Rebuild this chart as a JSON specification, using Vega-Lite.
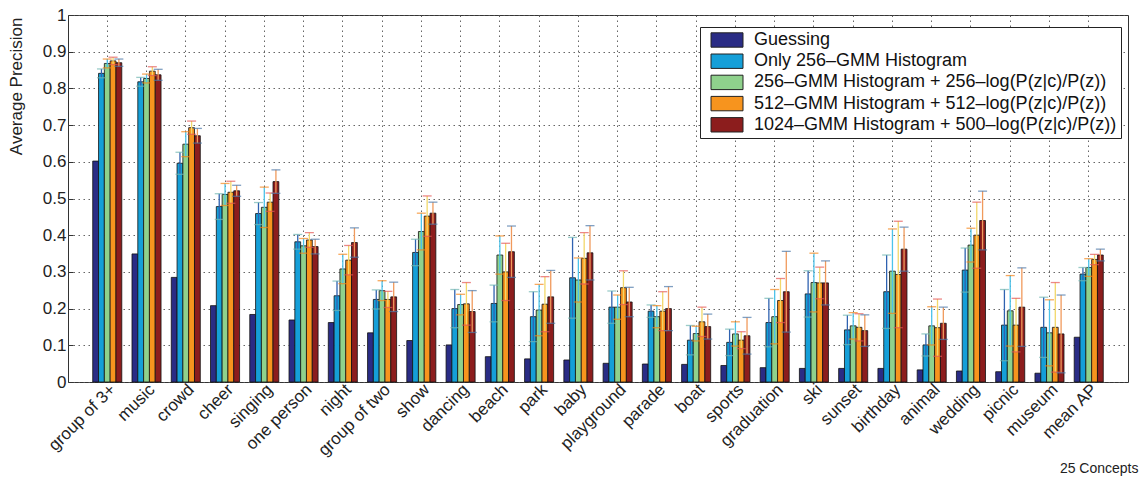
{
  "$schema": "https://vega.github.io/schema/vega-lite/v6.json",
  "width": 1060,
  "height": 367,
  "autosize": {"type": "none"},
  "padding": {"left": 68, "top": 15, "right": 14, "bottom": 95},
  "background": "white",
  "config": {
    "font": "Liberation Sans",
    "view": {"stroke": "#333", "strokeWidth": 1},
    "axis": {
      "labelFont": "Liberation Sans",
      "titleFont": "Liberation Sans",
      "labelColor": "#222",
      "titleColor": "#222",
      "gridColor": "#555",
      "gridDash": [1.5, 3.5],
      "gridWidth": 1,
      "gridOpacity": 0.9,
      "tickColor": "#333",
      "domain": false
    }
  },
  "data": {"values": [
    {"c":"group of 3+","s":"Guessing","ap":0.602},
    {"c":"group of 3+","s":"Only 256–GMM Histogram","ap":0.841,"lo":0.829,"hi":0.853},
    {"c":"group of 3+","s":"256–GMM Histogram + 256–log(P(z|c)/P(z))","ap":0.868,"lo":0.856,"hi":0.880},
    {"c":"group of 3+","s":"512–GMM Histogram + 512–log(P(z|c)/P(z))","ap":0.875,"lo":0.865,"hi":0.885},
    {"c":"group of 3+","s":"1024–GMM Histogram + 500–log(P(z|c)/P(z))","ap":0.870,"lo":0.860,"hi":0.880},
    {"c":"music","s":"Guessing","ap":0.349},
    {"c":"music","s":"Only 256–GMM Histogram","ap":0.818,"lo":0.806,"hi":0.830},
    {"c":"music","s":"256–GMM Histogram + 256–log(P(z|c)/P(z))","ap":0.827,"lo":0.815,"hi":0.839},
    {"c":"music","s":"512–GMM Histogram + 512–log(P(z|c)/P(z))","ap":0.847,"lo":0.835,"hi":0.859},
    {"c":"music","s":"1024–GMM Histogram + 500–log(P(z|c)/P(z))","ap":0.837,"lo":0.822,"hi":0.852},
    {"c":"crowd","s":"Guessing","ap":0.285},
    {"c":"crowd","s":"Only 256–GMM Histogram","ap":0.596,"lo":0.566,"hi":0.626},
    {"c":"crowd","s":"256–GMM Histogram + 256–log(P(z|c)/P(z))","ap":0.648,"lo":0.614,"hi":0.682},
    {"c":"crowd","s":"512–GMM Histogram + 512–log(P(z|c)/P(z))","ap":0.693,"lo":0.675,"hi":0.711},
    {"c":"crowd","s":"1024–GMM Histogram + 500–log(P(z|c)/P(z))","ap":0.671,"lo":0.651,"hi":0.691},
    {"c":"cheer","s":"Guessing","ap":0.208},
    {"c":"cheer","s":"Only 256–GMM Histogram","ap":0.478,"lo":0.443,"hi":0.513},
    {"c":"cheer","s":"256–GMM Histogram + 256–log(P(z|c)/P(z))","ap":0.511,"lo":0.481,"hi":0.541},
    {"c":"cheer","s":"512–GMM Histogram + 512–log(P(z|c)/P(z))","ap":0.517,"lo":0.487,"hi":0.547},
    {"c":"cheer","s":"1024–GMM Histogram + 500–log(P(z|c)/P(z))","ap":0.521,"lo":0.506,"hi":0.536},
    {"c":"singing","s":"Guessing","ap":0.184},
    {"c":"singing","s":"Only 256–GMM Histogram","ap":0.459,"lo":0.429,"hi":0.489},
    {"c":"singing","s":"256–GMM Histogram + 256–log(P(z|c)/P(z))","ap":0.476,"lo":0.421,"hi":0.531},
    {"c":"singing","s":"512–GMM Histogram + 512–log(P(z|c)/P(z))","ap":0.490,"lo":0.465,"hi":0.515},
    {"c":"singing","s":"1024–GMM Histogram + 500–log(P(z|c)/P(z))","ap":0.546,"lo":0.514,"hi":0.578},
    {"c":"one person","s":"Guessing","ap":0.169},
    {"c":"one person","s":"Only 256–GMM Histogram","ap":0.382,"lo":0.362,"hi":0.402},
    {"c":"one person","s":"256–GMM Histogram + 256–log(P(z|c)/P(z))","ap":0.371,"lo":0.351,"hi":0.391},
    {"c":"one person","s":"512–GMM Histogram + 512–log(P(z|c)/P(z))","ap":0.387,"lo":0.367,"hi":0.407},
    {"c":"one person","s":"1024–GMM Histogram + 500–log(P(z|c)/P(z))","ap":0.369,"lo":0.349,"hi":0.389},
    {"c":"night","s":"Guessing","ap":0.162},
    {"c":"night","s":"Only 256–GMM Histogram","ap":0.235,"lo":0.195,"hi":0.275},
    {"c":"night","s":"256–GMM Histogram + 256–log(P(z|c)/P(z))","ap":0.308,"lo":0.268,"hi":0.348},
    {"c":"night","s":"512–GMM Histogram + 512–log(P(z|c)/P(z))","ap":0.332,"lo":0.292,"hi":0.372},
    {"c":"night","s":"1024–GMM Histogram + 500–log(P(z|c)/P(z))","ap":0.380,"lo":0.340,"hi":0.420},
    {"c":"group of two","s":"Guessing","ap":0.134},
    {"c":"group of two","s":"Only 256–GMM Histogram","ap":0.225,"lo":0.199,"hi":0.251},
    {"c":"group of two","s":"256–GMM Histogram + 256–log(P(z|c)/P(z))","ap":0.249,"lo":0.222,"hi":0.276},
    {"c":"group of two","s":"512–GMM Histogram + 512–log(P(z|c)/P(z))","ap":0.225,"lo":0.203,"hi":0.247},
    {"c":"group of two","s":"1024–GMM Histogram + 500–log(P(z|c)/P(z))","ap":0.232,"lo":0.192,"hi":0.272},
    {"c":"show","s":"Guessing","ap":0.113},
    {"c":"show","s":"Only 256–GMM Histogram","ap":0.353,"lo":0.317,"hi":0.389},
    {"c":"show","s":"256–GMM Histogram + 256–log(P(z|c)/P(z))","ap":0.410,"lo":0.360,"hi":0.460},
    {"c":"show","s":"512–GMM Histogram + 512–log(P(z|c)/P(z))","ap":0.452,"lo":0.397,"hi":0.507},
    {"c":"show","s":"1024–GMM Histogram + 500–log(P(z|c)/P(z))","ap":0.460,"lo":0.430,"hi":0.490},
    {"c":"dancing","s":"Guessing","ap":0.101},
    {"c":"dancing","s":"Only 256–GMM Histogram","ap":0.200,"lo":0.148,"hi":0.252},
    {"c":"dancing","s":"256–GMM Histogram + 256–log(P(z|c)/P(z))","ap":0.211,"lo":0.183,"hi":0.239},
    {"c":"dancing","s":"512–GMM Histogram + 512–log(P(z|c)/P(z))","ap":0.213,"lo":0.155,"hi":0.271},
    {"c":"dancing","s":"1024–GMM Histogram + 500–log(P(z|c)/P(z))","ap":0.192,"lo":0.135,"hi":0.249},
    {"c":"beach","s":"Guessing","ap":0.069},
    {"c":"beach","s":"Only 256–GMM Histogram","ap":0.214,"lo":0.164,"hi":0.264},
    {"c":"beach","s":"256–GMM Histogram + 256–log(P(z|c)/P(z))","ap":0.346,"lo":0.294,"hi":0.398},
    {"c":"beach","s":"512–GMM Histogram + 512–log(P(z|c)/P(z))","ap":0.300,"lo":0.222,"hi":0.378},
    {"c":"beach","s":"1024–GMM Histogram + 500–log(P(z|c)/P(z))","ap":0.355,"lo":0.285,"hi":0.425},
    {"c":"park","s":"Guessing","ap":0.063},
    {"c":"park","s":"Only 256–GMM Histogram","ap":0.178,"lo":0.110,"hi":0.246},
    {"c":"park","s":"256–GMM Histogram + 256–log(P(z|c)/P(z))","ap":0.196,"lo":0.126,"hi":0.266},
    {"c":"park","s":"512–GMM Histogram + 512–log(P(z|c)/P(z))","ap":0.212,"lo":0.137,"hi":0.287},
    {"c":"park","s":"1024–GMM Histogram + 500–log(P(z|c)/P(z))","ap":0.232,"lo":0.160,"hi":0.304},
    {"c":"baby","s":"Guessing","ap":0.060},
    {"c":"baby","s":"Only 256–GMM Histogram","ap":0.284,"lo":0.174,"hi":0.394},
    {"c":"baby","s":"256–GMM Histogram + 256–log(P(z|c)/P(z))","ap":0.278,"lo":0.218,"hi":0.338},
    {"c":"baby","s":"512–GMM Histogram + 512–log(P(z|c)/P(z))","ap":0.337,"lo":0.267,"hi":0.407},
    {"c":"baby","s":"1024–GMM Histogram + 500–log(P(z|c)/P(z))","ap":0.352,"lo":0.278,"hi":0.426},
    {"c":"playground","s":"Guessing","ap":0.051},
    {"c":"playground","s":"Only 256–GMM Histogram","ap":0.204,"lo":0.160,"hi":0.248},
    {"c":"playground","s":"256–GMM Histogram + 256–log(P(z|c)/P(z))","ap":0.204,"lo":0.171,"hi":0.237},
    {"c":"playground","s":"512–GMM Histogram + 512–log(P(z|c)/P(z))","ap":0.257,"lo":0.211,"hi":0.303},
    {"c":"playground","s":"1024–GMM Histogram + 500–log(P(z|c)/P(z))","ap":0.218,"lo":0.178,"hi":0.258},
    {"c":"parade","s":"Guessing","ap":0.049},
    {"c":"parade","s":"Only 256–GMM Histogram","ap":0.193,"lo":0.176,"hi":0.210},
    {"c":"parade","s":"256–GMM Histogram + 256–log(P(z|c)/P(z))","ap":0.178,"lo":0.148,"hi":0.208},
    {"c":"parade","s":"512–GMM Histogram + 512–log(P(z|c)/P(z))","ap":0.193,"lo":0.140,"hi":0.246},
    {"c":"parade","s":"1024–GMM Histogram + 500–log(P(z|c)/P(z))","ap":0.200,"lo":0.140,"hi":0.260},
    {"c":"boat","s":"Guessing","ap":0.048},
    {"c":"boat","s":"Only 256–GMM Histogram","ap":0.114,"lo":0.074,"hi":0.154},
    {"c":"boat","s":"256–GMM Histogram + 256–log(P(z|c)/P(z))","ap":0.132,"lo":0.112,"hi":0.152},
    {"c":"boat","s":"512–GMM Histogram + 512–log(P(z|c)/P(z))","ap":0.164,"lo":0.124,"hi":0.204},
    {"c":"boat","s":"1024–GMM Histogram + 500–log(P(z|c)/P(z))","ap":0.151,"lo":0.117,"hi":0.185},
    {"c":"sports","s":"Guessing","ap":0.045},
    {"c":"sports","s":"Only 256–GMM Histogram","ap":0.108,"lo":0.072,"hi":0.144},
    {"c":"sports","s":"256–GMM Histogram + 256–log(P(z|c)/P(z))","ap":0.131,"lo":0.098,"hi":0.164},
    {"c":"sports","s":"512–GMM Histogram + 512–log(P(z|c)/P(z))","ap":0.114,"lo":0.091,"hi":0.137},
    {"c":"sports","s":"1024–GMM Histogram + 500–log(P(z|c)/P(z))","ap":0.126,"lo":0.076,"hi":0.176},
    {"c":"graduation","s":"Guessing","ap":0.039},
    {"c":"graduation","s":"Only 256–GMM Histogram","ap":0.162,"lo":0.096,"hi":0.228},
    {"c":"graduation","s":"256–GMM Histogram + 256–log(P(z|c)/P(z))","ap":0.178,"lo":0.104,"hi":0.252},
    {"c":"graduation","s":"512–GMM Histogram + 512–log(P(z|c)/P(z))","ap":0.222,"lo":0.162,"hi":0.282},
    {"c":"graduation","s":"1024–GMM Histogram + 500–log(P(z|c)/P(z))","ap":0.246,"lo":0.136,"hi":0.356},
    {"c":"ski","s":"Guessing","ap":0.037},
    {"c":"ski","s":"Only 256–GMM Histogram","ap":0.240,"lo":0.177,"hi":0.303},
    {"c":"ski","s":"256–GMM Histogram + 256–log(P(z|c)/P(z))","ap":0.271,"lo":0.191,"hi":0.351},
    {"c":"ski","s":"512–GMM Histogram + 512–log(P(z|c)/P(z))","ap":0.270,"lo":0.227,"hi":0.313},
    {"c":"ski","s":"1024–GMM Histogram + 500–log(P(z|c)/P(z))","ap":0.270,"lo":0.210,"hi":0.330},
    {"c":"sunset","s":"Guessing","ap":0.037},
    {"c":"sunset","s":"Only 256–GMM Histogram","ap":0.142,"lo":0.102,"hi":0.182},
    {"c":"sunset","s":"256–GMM Histogram + 256–log(P(z|c)/P(z))","ap":0.153,"lo":0.117,"hi":0.189},
    {"c":"sunset","s":"512–GMM Histogram + 512–log(P(z|c)/P(z))","ap":0.149,"lo":0.112,"hi":0.186},
    {"c":"sunset","s":"1024–GMM Histogram + 500–log(P(z|c)/P(z))","ap":0.140,"lo":0.097,"hi":0.183},
    {"c":"birthday","s":"Guessing","ap":0.037},
    {"c":"birthday","s":"Only 256–GMM Histogram","ap":0.246,"lo":0.146,"hi":0.346},
    {"c":"birthday","s":"256–GMM Histogram + 256–log(P(z|c)/P(z))","ap":0.302,"lo":0.187,"hi":0.417},
    {"c":"birthday","s":"512–GMM Histogram + 512–log(P(z|c)/P(z))","ap":0.293,"lo":0.148,"hi":0.438},
    {"c":"birthday","s":"1024–GMM Histogram + 500–log(P(z|c)/P(z))","ap":0.362,"lo":0.302,"hi":0.422},
    {"c":"animal","s":"Guessing","ap":0.033},
    {"c":"animal","s":"Only 256–GMM Histogram","ap":0.101,"lo":0.071,"hi":0.131},
    {"c":"animal","s":"256–GMM Histogram + 256–log(P(z|c)/P(z))","ap":0.153,"lo":0.101,"hi":0.205},
    {"c":"animal","s":"512–GMM Histogram + 512–log(P(z|c)/P(z))","ap":0.148,"lo":0.070,"hi":0.226},
    {"c":"animal","s":"1024–GMM Histogram + 500–log(P(z|c)/P(z))","ap":0.160,"lo":0.116,"hi":0.204},
    {"c":"wedding","s":"Guessing","ap":0.030},
    {"c":"wedding","s":"Only 256–GMM Histogram","ap":0.305,"lo":0.245,"hi":0.365},
    {"c":"wedding","s":"256–GMM Histogram + 256–log(P(z|c)/P(z))","ap":0.373,"lo":0.327,"hi":0.419},
    {"c":"wedding","s":"512–GMM Histogram + 512–log(P(z|c)/P(z))","ap":0.400,"lo":0.310,"hi":0.490},
    {"c":"wedding","s":"1024–GMM Histogram + 500–log(P(z|c)/P(z))","ap":0.440,"lo":0.360,"hi":0.520},
    {"c":"picnic","s":"Guessing","ap":0.028},
    {"c":"picnic","s":"Only 256–GMM Histogram","ap":0.155,"lo":0.058,"hi":0.252},
    {"c":"picnic","s":"256–GMM Histogram + 256–log(P(z|c)/P(z))","ap":0.194,"lo":0.098,"hi":0.290},
    {"c":"picnic","s":"512–GMM Histogram + 512–log(P(z|c)/P(z))","ap":0.155,"lo":0.082,"hi":0.228},
    {"c":"picnic","s":"1024–GMM Histogram + 500–log(P(z|c)/P(z))","ap":0.204,"lo":0.097,"hi":0.311},
    {"c":"museum","s":"Guessing","ap":0.024},
    {"c":"museum","s":"Only 256–GMM Histogram","ap":0.149,"lo":0.067,"hi":0.231},
    {"c":"museum","s":"256–GMM Histogram + 256–log(P(z|c)/P(z))","ap":0.134,"lo":0.044,"hi":0.224},
    {"c":"museum","s":"512–GMM Histogram + 512–log(P(z|c)/P(z))","ap":0.149,"lo":0.027,"hi":0.271},
    {"c":"museum","s":"1024–GMM Histogram + 500–log(P(z|c)/P(z))","ap":0.131,"lo":0.025,"hi":0.237},
    {"c":"mean AP","s":"Guessing","ap":0.122},
    {"c":"mean AP","s":"Only 256–GMM Histogram","ap":0.294,"lo":0.276,"hi":0.312},
    {"c":"mean AP","s":"256–GMM Histogram + 256–log(P(z|c)/P(z))","ap":0.312,"lo":0.288,"hi":0.336},
    {"c":"mean AP","s":"512–GMM Histogram + 512–log(P(z|c)/P(z))","ap":0.334,"lo":0.320,"hi":0.348},
    {"c":"mean AP","s":"1024–GMM Histogram + 500–log(P(z|c)/P(z))","ap":0.346,"lo":0.330,"hi":0.362}
  ]},
  "encoding": {
    "x": {
      "field": "c", "type": "nominal", "sort": null,
      "scale": {"paddingInner": 0.26, "paddingOuter": 0.63},
      "axis": {
        "title": "25 Concepts",
        "titleFontSize": 14, "titleFontWeight": "normal",
        "titleAnchor": "end", "titleAlign": "right", "titleBaseline": "alphabetic",
        "titleX": 1070, "titleY": 90,
        "labelAngle": -45, "labelFontSize": 17, "labelPadding": 4,
        "tickSize": -5, "grid": true, "bandPosition": 0.5
      }
    },
    "xOffset": {
      "field": "s", "type": "nominal", "sort": null,
      "scale": {"paddingInner": 0, "domain": ["Guessing","Only 256–GMM Histogram","256–GMM Histogram + 256–log(P(z|c)/P(z))","512–GMM Histogram + 512–log(P(z|c)/P(z))","1024–GMM Histogram + 500–log(P(z|c)/P(z))"]}
    }
  },
  "layer": [
    {
      "mark": {"type": "bar", "stroke": "#111", "strokeWidth": 0.8},
      "encoding": {
        "y": {
          "field": "ap", "type": "quantitative",
          "scale": {"domain": [0, 1], "nice": false},
          "axis": {
            "title": "Average Precision", "titleFontSize": 17, "titleFontWeight": "normal",
            "titleAnchor": "end", "titleAlign": "right", "titleBaseline": "middle", "titleAngle": -90,
            "titleX": -52, "titleY": 2,
            "values": [0, 0.1, 0.2, 0.3, 0.4, 0.5, 0.6, 0.7, 0.8, 0.9, 1],
            "labelExpr": "format(datum.value, '.1~f')",
            "labelFontSize": 17, "labelPadding": 7, "labelOverlap": false, "labelFlush": false,
            "tickSize": -5, "grid": true
          }
        },
        "color": {
          "field": "s", "type": "nominal", "sort": null,
          "scale": {
            "domain": ["Guessing","Only 256–GMM Histogram","256–GMM Histogram + 256–log(P(z|c)/P(z))","512–GMM Histogram + 512–log(P(z|c)/P(z))","1024–GMM Histogram + 500–log(P(z|c)/P(z))"],
            "range": ["#2a2c85", "#159fd8", "#8fd18c", "#f7941e", "#8c1d1d"]
          },
          "legend": {
            "title": null, "orient": "none", "legendX": 632, "legendY": 12,
            "labelFontSize": 18, "labelFont": "Liberation Sans", "labelColor": "#111", "labelLimit": 600,
            "symbolType": "M-2,-0.9H2V0.9H-2Z", "symbolSize": 256,
            "symbolStrokeColor": "#222", "symbolStrokeWidth": 1, "symbolOpacity": 1,
            "symbolOffset": 14, "labelOffset": 18, "rowPadding": 1.2,
            "padding": 4, "strokeColor": "#222", "fillColor": "white"
          }
        }
      }
    },
    {
      "transform": [{"filter": "datum.hi != null"}],
      "mark": {"type": "rule", "strokeWidth": 1.3},
      "encoding": {
        "y": {
          "field": "lo", "type": "quantitative",
          "scale": {"domain": [0, 1], "nice": false},
          "axis": {
            "title": "Average Precision", "titleFontSize": 17, "titleFontWeight": "normal",
            "titleAnchor": "end", "titleAlign": "right", "titleBaseline": "middle", "titleAngle": -90,
            "titleX": -52, "titleY": 2,
            "values": [0, 0.1, 0.2, 0.3, 0.4, 0.5, 0.6, 0.7, 0.8, 0.9, 1],
            "labelExpr": "format(datum.value, '.1~f')",
            "labelFontSize": 17, "labelPadding": 7, "labelOverlap": false, "labelFlush": false,
            "tickSize": -5, "grid": true
          }
        },
        "y2": {"field": "hi"},
        "color": {
          "field": "s", "type": "nominal", "legend": null,
          "scale": {
            "domain": ["Guessing","Only 256–GMM Histogram","256–GMM Histogram + 256–log(P(z|c)/P(z))","512–GMM Histogram + 512–log(P(z|c)/P(z))","1024–GMM Histogram + 500–log(P(z|c)/P(z))"],
            "range": ["#2a2c85", "#2f62b0", "#4cc3ea", "#f2d86a", "#f09a5c"]
          }
        }
      }
    },
    {
      "transform": [{"filter": "datum.hi != null"}],
      "mark": {"type": "tick", "size": 9, "thickness": 1.3},
      "encoding": {
        "y": {
          "field": "hi", "type": "quantitative",
          "scale": {"domain": [0, 1], "nice": false},
          "axis": {
            "title": "Average Precision", "titleFontSize": 17, "titleFontWeight": "normal",
            "titleAnchor": "end", "titleAlign": "right", "titleBaseline": "middle", "titleAngle": -90,
            "titleX": -52, "titleY": 2,
            "values": [0, 0.1, 0.2, 0.3, 0.4, 0.5, 0.6, 0.7, 0.8, 0.9, 1],
            "labelExpr": "format(datum.value, '.1~f')",
            "labelFontSize": 17, "labelPadding": 7, "labelOverlap": false, "labelFlush": false,
            "tickSize": -5, "grid": true
          }
        },
        "color": {"field": "s", "type": "nominal", "legend": null}
      }
    },
    {
      "transform": [{"filter": "datum.hi != null"}],
      "mark": {"type": "tick", "size": 9, "thickness": 1.3},
      "encoding": {
        "y": {
          "field": "lo", "type": "quantitative",
          "scale": {"domain": [0, 1], "nice": false},
          "axis": {
            "title": "Average Precision", "titleFontSize": 17, "titleFontWeight": "normal",
            "titleAnchor": "end", "titleAlign": "right", "titleBaseline": "middle", "titleAngle": -90,
            "titleX": -52, "titleY": 2,
            "values": [0, 0.1, 0.2, 0.3, 0.4, 0.5, 0.6, 0.7, 0.8, 0.9, 1],
            "labelExpr": "format(datum.value, '.1~f')",
            "labelFontSize": 17, "labelPadding": 7, "labelOverlap": false, "labelFlush": false,
            "tickSize": -5, "grid": true
          }
        },
        "color": {"field": "s", "type": "nominal", "legend": null}
      }
    }
  ],
  "resolve": {"scale": {"color": "independent"}}
}
